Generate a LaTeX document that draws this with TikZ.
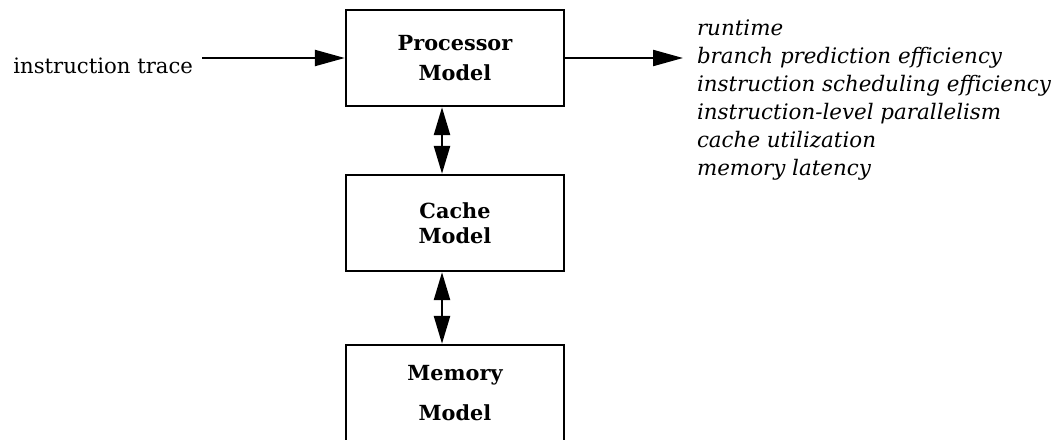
\documentclass[tikz,border=0pt]{standalone}
\usepackage{fontspec}
\setmainfont{DejaVu Serif}
\usetikzlibrary{arrows.meta}

\tikzset{
  model/.style={draw, line width=1.2pt, minimum width=109pt, minimum height=48pt,
    align=center, inner sep=0pt},
  flow/.style={line width=1.1pt, -{Triangle[length=15pt,width=8pt]}},
  link/.style={line width=1.3pt,
    {Triangle[length=14pt,width=8pt]}-{Triangle[length=14pt,width=8pt]}},
  metric/.style={anchor=base west, inner sep=0pt, outer xsep=7pt,
    font=\fontsize{10.7}{12}\selectfont\itshape},
}

\begin{document}
\begin{tikzpicture}[x=0.5pt,y=-0.5pt]
\useasboundingbox (0,0) rectangle (1060,439);

% the three models
\node[model, font=\fontsize{10.4}{15}\selectfont\bfseries] (proc) at (455,58) {Processor\\Model};
\node[model, font=\fontsize{10.4}{12.5}\selectfont\bfseries] (cache) at (455,223) {Cache\\Model};
\node[model, font=\fontsize{10.4}{20}\selectfont\bfseries] (mem) at (455,393) {Memory\\Model};

% input
\node[anchor=base east, inner sep=0pt, outer xsep=4.5pt, font=\fontsize{10.6}{12}\selectfont]
  (trace) at (202,73) {instruction trace};
\draw[flow] (trace.east |- proc.west) -- (proc.west);

% outputs
\foreach \txt [count=\i] in {runtime, branch prediction efficiency,
  instruction scheduling efficiency, instruction-level parallelism,
  cache utilization, memory latency}
  \node[metric] (m\i) at (683,7+28*\i) {\txt};
\draw[flow] (proc.east) -- (proc.east -| m2.west);

% links between models
\draw[link] ([xshift=-6.5pt]proc.south) -- ([xshift=-6.5pt]cache.north);
\draw[link] ([xshift=-6.5pt]cache.south) -- ([xshift=-6.5pt]mem.north);
\end{tikzpicture}
\end{document}
